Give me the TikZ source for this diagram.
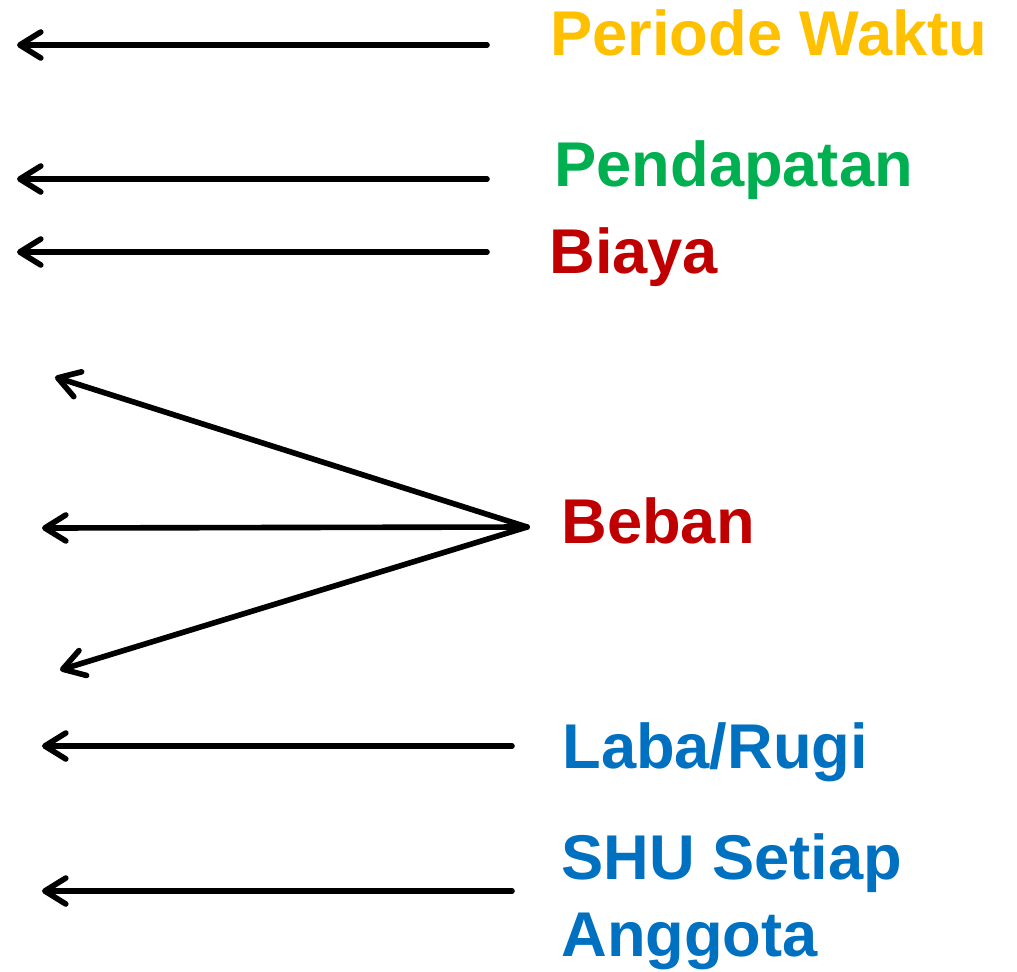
\documentclass[tikz,border=0pt]{standalone}
\usepackage{fontspec}
\setmainfont{Liberation Sans}
\usetikzlibrary{arrows.meta}
\definecolor{cgold}{HTML}{FFC000}
\definecolor{cgreen}{HTML}{00B050}
\definecolor{cred}{HTML}{C00000}
\definecolor{cblue}{HTML}{0070C0}
\begin{document}
\begin{tikzpicture}[x=0.02cm,y=-0.02cm,
  arr/.style={line width=3.2pt,line cap=round,-{Straight Barb[length=0.42cm,width=0.52cm,line cap=round,line join=round]}},
  lbl/.style={anchor=base west,inner sep=0pt,font=\fontsize{36}{42}\selectfont\bfseries}]
\useasboundingbox (0,0) rectangle (1017,971);
% labels
\node[lbl,text=cgold] (t1) at (550,55) {Periode Waktu};
\node[lbl,text=cgreen] (t2) at (554,186) {Pendapatan};
\node[lbl,text=cred] (t3) at (549,273) {Biaya};
\node[lbl,text=cred] (t4) at (561,543) {Beban};
\node[lbl,text=cblue] (t5) at (562,768) {Laba/Rugi};
\node[lbl,text=cblue] (t6) at (561,879) {SHU Setiap};
\node[lbl,text=cblue] (t7) at (561,956) {Anggota};
% coordinates
\coordinate (s1) at (487,45);  \coordinate (e1) at (17,45);
\coordinate (s2) at (487,179); \coordinate (e2) at (17,179);
\coordinate (s3) at (487,252); \coordinate (e3) at (17,252);
\coordinate (apex) at (527,527);
\coordinate (b1) at (55,377);
\coordinate (b2) at (42,528);
\coordinate (b3) at (60,670);
\coordinate (s5) at (512,746); \coordinate (e5) at (42,746);
\coordinate (s6) at (512,891); \coordinate (e6) at (42,891);
% arrows
\draw[arr] (s1) -- (e1);
\draw[arr] (s2) -- (e2);
\draw[arr] (s3) -- (e3);
\draw[arr] (apex) -- (b1);
\draw[arr] (apex) -- (b2);
\draw[arr] (apex) -- (b3);
\draw[arr] (s5) -- (e5);
\draw[arr] (s6) -- (e6);
\end{tikzpicture}
\end{document}
